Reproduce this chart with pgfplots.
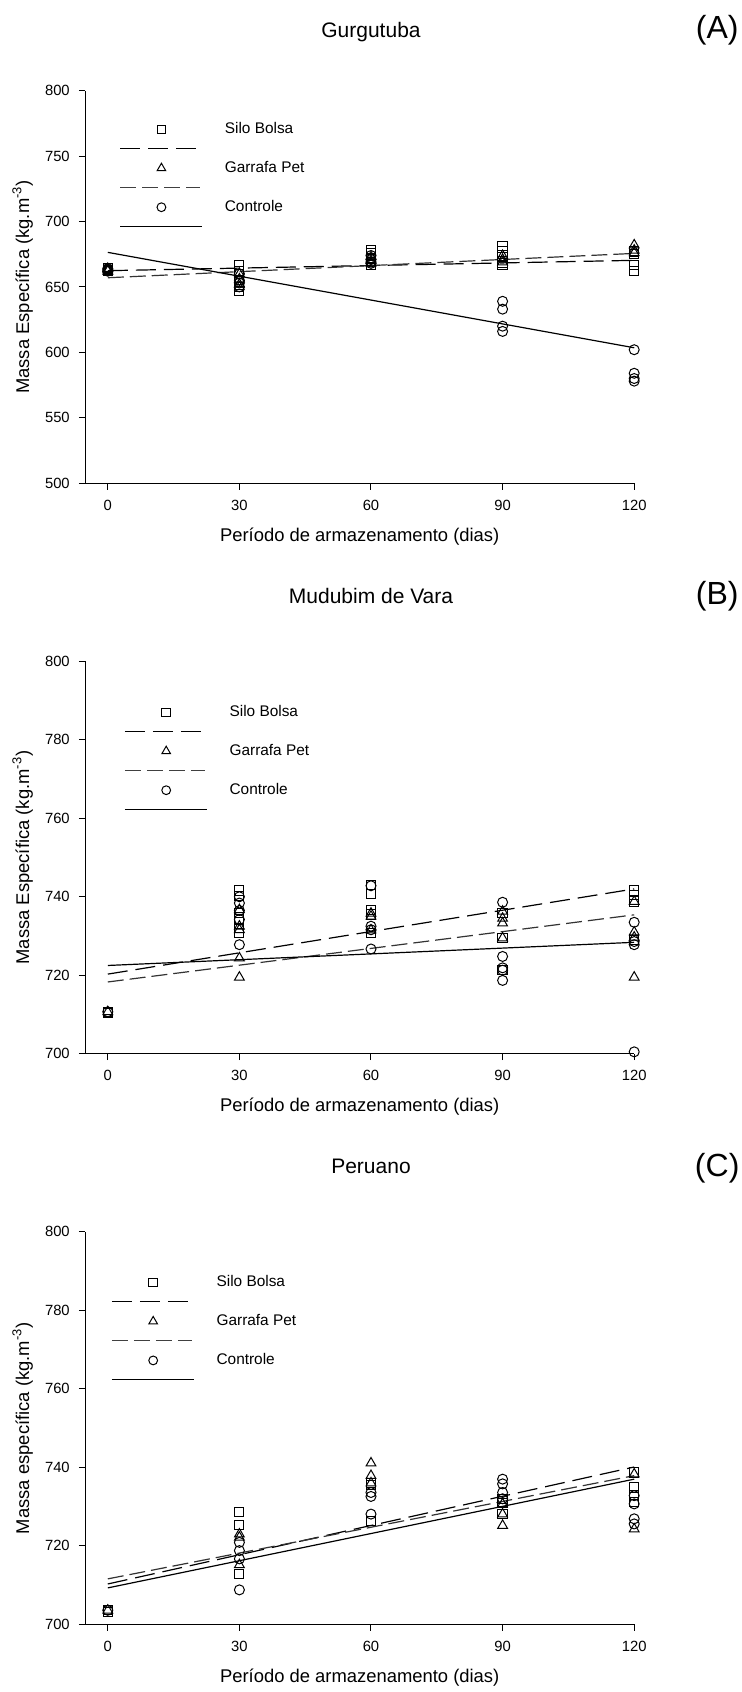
\documentclass[border=0pt]{standalone}
\usepackage{pgfplots}
\pgfplotsset{compat=1.18}
\usepackage{fontspec}
\setmainfont{Liberation Sans}

\pgfplotsset{
  panel/.style={
    scale only axis, width=274.5pt, height=196.3pt, anchor=south west,
    xmin=-5.15, xmax=120, xtick={0,30,60,90,120},
    axis x line=bottom, axis y line=left,
    axis line style={-, line width=0.5pt, black},
    tick align=outside, major tick length=3.2pt,
    tick style={black, line width=0.5pt},
    ticklabel style={font=\fontsize{7.4}{8.5}\selectfont},
    xticklabel style={yshift=-1.5pt},
    yticklabel style={xshift=-1pt},
    /pgf/number format/assume math mode=true,
    xlabel={Período de armazenamento (dias)},
    xlabel style={font=\fontsize{9.2}{11}\selectfont, at={(axis description cs:0.5,0)}, anchor=center, yshift=-26.6pt},
    ylabel style={font=\fontsize{9.2}{11}\selectfont, at={(axis description cs:-0.114,0.5)}, anchor=center},
    legend cell align=left,
    legend style={draw=none, fill=none, inner sep=0pt, outer sep=0pt,
      row sep=0pt, column sep=11pt, anchor=north west,
      nodes={inner sep=0pt, font=\fontsize{7.7}{9}\selectfont}},
    clip=false,
  },
  sq/.style={only marks, mark=square, mark size=2.3pt, black, mark options={line width=0.5pt, solid}, forget plot},
  tr/.style={only marks, mark=triangle, mark size=2.8pt, black, mark options={line width=0.5pt, solid}, forget plot},
  ci/.style={only marks, mark=o, mark size=2.5pt, black, mark options={line width=0.5pt, solid}, forget plot},
  siloline/.style={black, line width=0.6pt, dash pattern=on 10pt off 4pt, mark=none, forget plot},
  petline/.style={black!80, line width=0.6pt, dash pattern=on 8pt off 3pt, mark=none, forget plot},
  ctrlline/.style={black, line width=0.6pt, solid, mark=none, forget plot},
  legsilo/.style={legend image code/.code={
    \path (0pt,-9.5pt) (0pt,9.5pt);
    \draw[black, line width=0.6pt, dash pattern=on 10pt off 4pt] (0pt,-9.5pt) -- (38pt,-9.5pt);
    \draw[black, line width=0.5pt, solid] plot[mark=square, mark size=2.1pt] coordinates {(20.6pt,0pt)};
  }},
  legpet/.style={legend image code/.code={
    \path (0pt,-9.5pt) (0pt,9.5pt);
    \draw[black!75, line width=0.6pt, dash pattern=on 8pt off 3pt] (0pt,-9.5pt) -- (40pt,-9.5pt);
    \draw[black, line width=0.5pt, solid] plot[mark=triangle, mark size=2.5pt] coordinates {(20.6pt,0pt)};
  }},
  legctrl/.style={legend image code/.code={
    \path (0pt,-9.5pt) (0pt,9.5pt);
    \draw[black, line width=0.6pt, solid] (0pt,-9.5pt) -- (41pt,-9.5pt);
    \draw[black, line width=0.5pt, solid] plot[mark=o, mark size=2.2pt] coordinates {(20.6pt,0pt)};
  }},
}

\begin{document}
\begin{tikzpicture}
\path[use as bounding box] (0,0) rectangle (370.5pt,-846pt);

% ---------- Panel A ----------
\node[font=\fontsize{10.5}{12}\selectfont] at (185.5pt,-16.2pt) {Gurgutuba};
\node[font=\fontsize{16}{18}\selectfont] at (358.6pt,-15pt) {(A)};
\begin{axis}[panel, at={(42.6pt,-241.6pt)},
  ymin=500, ymax=800, ytick={500,550,600,650,700,750,800},
  ylabel={Massa Específica (kg.m\textsuperscript{-3})},
  legend style={at={(0.0627,0.951)}}]
\addlegendimage{legsilo}\addlegendentry{Silo Bolsa}
\addlegendimage{legpet}\addlegendentry{Garrafa Pet}
\addlegendimage{legctrl}\addlegendentry{Controle}
\addplot[sq] coordinates {(0,663) (0,662) (0,664) (30,667) (30,662) (30,655) (30,650) (30,647)
  (60,678) (60,676) (60,672) (60,667) (90,681) (90,677) (90,673) (90,668) (90,667)
  (120,677) (120,675) (120,667) (120,662)};
\addplot[tr] coordinates {(0,663) (0,662) (0,664) (30,660) (30,656) (30,652) (30,650)
  (60,673) (60,670) (60,668) (90,674) (90,671) (90,669) (120,682) (120,678) (120,676)};
\addplot[ci] coordinates {(0,663) (0,662) (0,664) (30,660) (30,655) (30,653) (30,650)
  (60,674) (60,671) (60,669) (60,668) (90,639) (90,633) (90,620) (90,616)
  (120,602) (120,584) (120,580) (120,578)};
\addplot[siloline] coordinates {(0,662.4) (120,670.3)};
\addplot[petline] coordinates {(0,657) (120,675.6)};
\addplot[ctrlline] coordinates {(0,676.4) (120,603.5)};
\end{axis}

% ---------- Panel B ----------
\node[font=\fontsize{10.5}{12}\selectfont] at (185.5pt,-298.2pt) {Mudubim de Vara};
\node[font=\fontsize{16}{18}\selectfont] at (358.6pt,-298.2pt) {(B)};
\begin{axis}[panel, at={(42.6pt,-526.9pt)},
  ymin=700, ymax=800, ytick={700,720,740,760,780,800},
  ylabel={Massa Específica (kg.m\textsuperscript{-3})},
  legend style={at={(0.0714,0.9195)}}]
\addlegendimage{legsilo}\addlegendentry{Silo Bolsa}
\addlegendimage{legpet}\addlegendentry{Garrafa Pet}
\addlegendimage{legctrl}\addlegendentry{Controle}
\addplot[sq] coordinates {(0,710.7) (0,710.3) (30,741.6) (30,740.1) (30,735.8) (30,734.2) (30,732) (30,730.8)
  (60,742.9) (60,740.8) (60,736.7) (60,735.5) (60,730.8) (90,735.8) (90,729.5) (90,721.4)
  (120,741.6) (120,740.5) (120,738.8) (120,729)};
\addplot[tr] coordinates {(0,710.7) (30,736.7) (30,732.5) (30,731.6) (30,724.4) (30,719.5)
  (60,735.8) (60,735) (60,731.5) (90,736.3) (90,734.5) (90,733.3) (90,729.5)
  (120,738.8) (120,731) (120,729.7) (120,719.5)};
\addplot[ci] coordinates {(0,710.7) (30,740) (30,738.4) (30,736.5) (30,734.2) (30,727.8)
  (60,742.8) (60,732.5) (60,731.6) (60,726.7) (90,738.6) (90,724.8) (90,721.9) (90,721.3) (90,718.7)
  (120,733.5) (120,728.6) (120,727.8) (120,700.5)};
\addplot[siloline] coordinates {(0,720.3) (120,742)};
\addplot[petline] coordinates {(0,718.3) (120,735.4)};
\addplot[ctrlline] coordinates {(0,722.5) (120,728.4)};
\end{axis}

% ---------- Panel C ----------
\node[font=\fontsize{10.5}{12}\selectfont] at (185.5pt,-583pt) {Peruano};
\node[font=\fontsize{16}{18}\selectfont] at (358.6pt,-584pt) {(C)};
\begin{axis}[panel, at={(42.6pt,-812.2pt)},
  ymin=700, ymax=800, ytick={700,720,740,760,780,800},
  ylabel={Massa específica (kg.m\textsuperscript{-3})},
  legend style={at={(0.0477,0.9205)}}]
\addlegendimage{legsilo}\addlegendentry{Silo Bolsa}
\addlegendimage{legpet}\addlegendentry{Garrafa Pet}
\addlegendimage{legctrl}\addlegendentry{Controle}
\addplot[sq] coordinates {(0,703.6) (0,703.2) (30,728.6) (30,725.4) (30,712.9)
  (60,736) (60,735.5) (60,726.4) (90,732) (90,731) (90,728.1)
  (120,738.7) (120,734.9) (120,733) (120,731.1)};
\addplot[tr] coordinates {(0,703.6) (30,723) (30,722.2) (30,715.2)
  (60,741.1) (60,737.9) (60,736) (90,730.7) (90,728.1) (90,725.2)
  (120,738.3) (120,724.3)};
\addplot[ci] coordinates {(0,703.6) (30,720.9) (30,718.8) (30,716.7) (30,708.8)
  (60,733.6) (60,732.6) (60,728.1) (90,737) (90,735.8) (90,733.6) (90,732)
  (120,732.8) (120,730.7) (120,726.9) (120,725.6)};
\addplot[siloline] coordinates {(0,710.3) (120,740.1)};
\addplot[petline] coordinates {(0,711.6) (120,737.9)};
\addplot[ctrlline] coordinates {(0,709.3) (120,737)};
\end{axis}
\end{tikzpicture}
\end{document}
